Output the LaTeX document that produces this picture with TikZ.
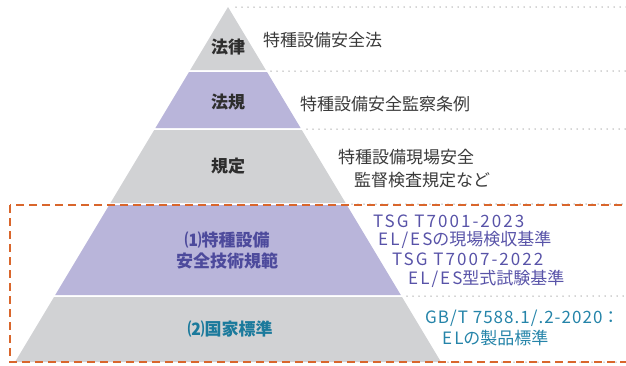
\documentclass[tikz,border=0pt]{standalone}
\usepackage{fontspec}
\setmainfont{Noto Sans CJK JP}
\newfontfamily\lsp{Noto Sans CJK JP}[LetterSpace=12]
\newfontfamily\lspb{Noto Sans CJK JP}[LetterSpace=6]
\definecolor{pgray}{HTML}{D1D2D4}
\definecolor{ppurple}{HTML}{B9B5DA}
\definecolor{lblgray}{HTML}{2E2E2E}
\definecolor{txtgray}{HTML}{3A3A3A}
\definecolor{lblpurple}{HTML}{4D4A9C}
\definecolor{txtpurple}{HTML}{5853A8}
\definecolor{lblteal}{HTML}{1B7A9C}
\definecolor{txtteal}{HTML}{2584A9}
\definecolor{dashorange}{HTML}{D9662C}
\definecolor{dotgray}{HTML}{A8A8A8}
\tikzset{
  lbl/.style={font=\fontsize{17}{21}\selectfont\bfseries, inner sep=0pt, align=center},
  desc/.style={font=\fontsize{17}{19}\selectfont, inner sep=0pt, anchor=west},
  dotline/.style={draw=dotgray, line width=1.5pt, line cap=round, dash pattern=on 0pt off 6pt},
  frame/.style={draw=dashorange, line width=1.6pt, dash pattern=on 8pt off 5pt}
}
\begin{document}
\begin{tikzpicture}[x=1pt,y=-1pt]
\useasboundingbox (0,0) rectangle (626,365);
\clip (0,0) rectangle (626,365);
% pyramid levels (left x = 228-0.6(y-7))
\fill[pgray]   (228,7) -- (265.8,70) -- (190.2,70) -- cycle;
\fill[ppurple] (189,72) -- (267,72) -- (300.6,128) -- (155.4,128) -- cycle;
\fill[pgray]   (154.2,130) -- (301.8,130) -- (345.6,203) -- (110.4,203) -- cycle;
\fill[ppurple] (109.2,205) -- (346.8,205) -- (400.8,295) -- (55.2,295) -- cycle;
\fill[pgray]   (54,297) -- (402,297) -- (441,362) -- (15,362) -- cycle;
% dotted guide lines
\coordinate (d1a) at (236,7);   \coordinate (d1b) at (626,7);
\coordinate (d2a) at (271,71);  \coordinate (d2b) at (626,71);
\coordinate (d3a) at (307,129); \coordinate (d3b) at (626,129);
\coordinate (d4a) at (352,204); \coordinate (d4b) at (626,204);
\coordinate (d5a) at (407,296); \coordinate (d5b) at (626,296);
\coordinate (d6a) at (448,362); \coordinate (d6b) at (626,362);
\draw[dotline] (d1a) -- (d1b);
\draw[dotline] (d2a) -- (d2b);
\draw[dotline] (d3a) -- (d3b);
\draw[dotline] (d4a) -- (d4b);
\draw[dotline] (d5a) -- (d5b);
\draw[dotline] (d6a) -- (d6b);
% dashed frame
\coordinate (f1) at (10,205);
\coordinate (f2) at (640,362);
\draw[frame] (f1) rectangle (f2);
% level labels
\node[lbl, text=lblgray] (l1) at (228,47) {法律};
\node[lbl, text=lblgray] (l2) at (228,102) {法規};
\node[lbl, text=lblgray] (l3) at (228,166) {規定};
\node[lbl, text=lblpurple] (l4) at (227,251) {⑴特種設備\\安全技術規範};
\node[lbl, text=lblteal] (l5) at (230,329) {⑵国家標準};
% descriptions
\node[desc, text=txtgray] (t1) at (263,40) {特種設備安全法};
\node[desc, text=txtgray] (t2) at (300,104) {特種設備安全監察条例};
\node[desc, text=txtgray] (t3a) at (338,157) {特種設備現場安全};
\node[desc, text=txtgray] (t3b) at (354,180) {監督検査規定など};
\node[desc, text=txtpurple] (t4a) at (373,221) {\lsp TSG T7001-2023};
\node[desc, text=txtpurple] (t4b) at (378,240) {{\lsp EL/ES}の現場検収基準};
\node[desc, text=txtpurple] (t4c) at (392,259) {\lsp TSG T7007-2022};
\node[desc, text=txtpurple] (t4d) at (408,279) {{\lsp EL/ES}型式試験基準};
\node[desc, text=txtteal] (t5a) at (425,318) {{\lspb GB/T 7588.1/.2-2020}：};
\node[desc, text=txtteal] (t5b) at (442,338) {{\lsp EL}の製品標準};
\end{tikzpicture}
\end{document}
